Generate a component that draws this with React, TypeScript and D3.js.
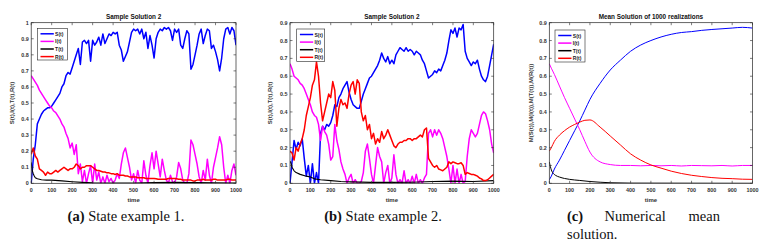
import * as d3 from "d3";

// time grid of the sampled paths (every 10 time units)
const tGrid = d3.range(0, 1001, 10);

// ---- panel (a): sample path 1 ----
const sA = [0.0, 0.15, 0.24, 0.37, 0.40, 0.43, 0.45, 0.46, 0.47, 0.47, 0.48, 0.50, 0.52, 0.54, 0.56, 0.60, 0.62, 0.67, 0.69, 0.68,
  0.72, 0.76, 0.80, 0.84, 0.74, 0.88, 0.89, 0.87, 0.89, 0.76, 0.89, 0.86, 0.88, 0.91, 0.86, 0.93, 0.87, 0.90, 0.93, 0.92,
  0.94, 0.93, 0.94, 0.86, 0.83, 0.76, 0.79, 0.82, 0.88, 0.94, 0.96, 0.95, 0.96, 0.93, 0.96, 0.90, 0.94, 0.84, 0.92, 0.86,
  0.78, 0.90, 0.94, 0.96, 0.95, 0.97, 0.96, 0.97, 0.95, 0.89, 0.96, 0.94, 0.96, 0.86, 0.84, 0.90, 0.95, 0.93, 0.71, 0.74,
  0.80, 0.86, 0.93, 0.96, 0.87, 0.92, 0.96, 0.95, 0.84, 0.86, 0.82, 0.77, 0.70, 0.78, 0.90, 0.96, 0.97, 0.93, 0.97, 0.95, 0.86];
const iA = [0.67, 0.65, 0.63, 0.61, 0.58, 0.56, 0.54, 0.52, 0.50, 0.48, 0.47, 0.45, 0.44, 0.42, 0.40, 0.37, 0.35, 0.31, 0.28, 0.22,
  0.25, 0.18, 0.24, 0.06, 0.12, 0.01, 0.08, 0.0, 0.06, 0.11, 0.0, 0.12, 0.02, 0.07, 0.0, 0.04, 0.0, 0.05, 0.01, 0.03,
  0.0, 0.02, 0.06, 0.03, 0.12, 0.19, 0.22, 0.16, 0.10, 0.02, 0.06, 0.0, 0.08, 0.02, 0.0, 0.14, 0.05, 0.0, 0.11, 0.19,
  0.09, 0.20, 0.12, 0.04, 0.15, 0.08, 0.02, 0.0, 0.05, 0.01, 0.0, 0.04, 0.13, 0.09, 0.02, 0.0, 0.0, 0.06, 0.27, 0.24,
  0.18, 0.12, 0.04, 0.0, 0.08, 0.02, 0.15, 0.05, 0.0, 0.10, 0.16, 0.22, 0.29, 0.24, 0.10, 0.0, 0.05, 0.0, 0.08, 0.12, 0.05];
const rA = [0.18, 0.22, 0.17, 0.15, 0.09, 0.08, 0.07, 0.05, 0.07, 0.06, 0.06, 0.07, 0.08, 0.07, 0.08, 0.09, 0.10, 0.09, 0.08, 0.09,
  0.09, 0.10, 0.12, 0.11, 0.09, 0.10, 0.10, 0.11, 0.11, 0.11, 0.10, 0.09, 0.08, 0.08, 0.075, 0.07, 0.07, 0.065, 0.065, 0.06,
  0.06, 0.055, 0.06, 0.05, 0.05, 0.05, 0.045, 0.045, 0.04, 0.04, 0.04, 0.04, 0.035, 0.035, 0.035, 0.035, 0.03, 0.03, 0.03, 0.03,
  0.03, 0.028, 0.025, 0.025, 0.025, 0.025, 0.025, 0.03, 0.03, 0.03, 0.03, 0.028, 0.025, 0.025, 0.02, 0.02, 0.02, 0.02, 0.02, 0.015,
  0.015, 0.02, 0.02, 0.02, 0.025, 0.02, 0.02, 0.02, 0.02, 0.025, 0.025, 0.02, 0.02, 0.02, 0.02, 0.02, 0.025, 0.025, 0.02, 0.02, 0.02];
const tTA = [0, 5, 10, 15, 20, 30, 40, 50, 75, 100, 150, 200, 250, 300, 400, 500, 600, 700, 800, 900, 1000];
const vTA = [0.13, 0.08, 0.06, 0.045, 0.035, 0.028, 0.025, 0.022, 0.02, 0.02, 0.015, 0.01, 0.006, 0.003, 0.002, 0.002, 0.005, 0.006, 0.004, 0.003, 0.002];

// ---- panel (b): sample path 2 ----
const sB = [0.0, 0.12, 0.24, 0.19, 0.23, 0.21, 0.25, 0.14, 0.04, 0.10, 0.0, 0.11, 0.0, 0.06, 0.0, 0.28, 0.32, 0.30, 0.33, 0.32,
  0.34, 0.38, 0.44, 0.43, 0.48, 0.50, 0.53, 0.55, 0.57, 0.51, 0.47, 0.44, 0.43, 0.42, 0.42, 0.46, 0.50, 0.53, 0.56, 0.59,
  0.60, 0.62, 0.64, 0.66, 0.69, 0.73, 0.70, 0.68, 0.71, 0.67, 0.69, 0.67, 0.72, 0.74, 0.76, 0.75, 0.74, 0.76, 0.74, 0.75,
  0.74, 0.72, 0.74, 0.73, 0.72, 0.69, 0.67, 0.63, 0.59, 0.60, 0.61, 0.63, 0.62, 0.64, 0.63, 0.66, 0.69, 0.73, 0.80, 0.86,
  0.84, 0.87, 0.82, 0.87, 0.86, 0.89, 0.74, 0.70, 0.68, 0.66, 0.68, 0.67, 0.69, 0.64, 0.60, 0.58, 0.57, 0.60, 0.66, 0.72, 0.78];
const iB = [0.67, 0.64, 0.60, 0.59, 0.58, 0.56, 0.55, 0.53, 0.50, 0.47, 0.44, 0.40, 0.38, 0.37, 0.33, 0.24, 0.32, 0.29, 0.27, 0.22,
  0.13, 0.15, 0.33, 0.24, 0.19, 0.12, 0.08, 0.05, 0.0, 0.03, 0.05, 0.0, 0.02, 0.0, 0.0, 0.01, 0.06, 0.18, 0.22, 0.14,
  0.05, 0.0, 0.10, 0.20, 0.15, 0.12, 0.0, 0.06, 0.10, 0.0, 0.03, 0.16, 0.05, 0.0, 0.02, 0.0, 0.07, 0.0, 0.02, 0.0,
  0.04, 0.0, 0.05, 0.0, 0.02, 0.0, 0.03, 0.05, 0.28, 0.30, 0.26, 0.30, 0.27, 0.30, 0.28, 0.25, 0.20, 0.15, 0.08, 0.0,
  0.10, 0.0, 0.08, 0.0, 0.05, 0.0, 0.01, 0.15, 0.25, 0.30, 0.28, 0.26, 0.28, 0.33, 0.38, 0.40, 0.39, 0.35, 0.30, 0.22, 0.17];
const rB = [0.18, 0.17, 0.13, 0.20, 0.18, 0.22, 0.25, 0.30, 0.38, 0.43, 0.48, 0.55, 0.58, 0.68, 0.60, 0.45, 0.35, 0.40, 0.45, 0.50,
  0.48, 0.57, 0.52, 0.32, 0.42, 0.47, 0.44, 0.45, 0.42, 0.50, 0.55, 0.57, 0.50, 0.58, 0.56, 0.40, 0.35, 0.38, 0.30, 0.33,
  0.25, 0.28, 0.22, 0.25, 0.23, 0.29, 0.25, 0.27, 0.30, 0.27, 0.24, 0.21, 0.20, 0.22, 0.23, 0.23, 0.24, 0.24, 0.25, 0.25,
  0.24, 0.25, 0.25, 0.26, 0.27, 0.26, 0.30, 0.31, 0.14, 0.12, 0.10, 0.09, 0.10, 0.08, 0.075, 0.07, 0.08, 0.09, 0.12, 0.11,
  0.12, 0.115, 0.11, 0.11, 0.115, 0.10, 0.05, 0.06, 0.055, 0.05, 0.05, 0.045, 0.04, 0.03, 0.025, 0.015, 0.015, 0.02, 0.03, 0.04, 0.05];
const tTB = [0, 3, 10, 20, 30, 50, 80, 100, 120, 150, 200, 250, 300, 400, 500, 600, 700, 800, 900, 1000];
const vTB = [0.12, 0.12, 0.09, 0.07, 0.06, 0.05, 0.04, 0.035, 0.025, 0.02, 0.015, 0.01, 0.008, 0.005, 0.005, 0.006, 0.01, 0.012, 0.01, 0.015];

// ---- panel (c): mean of 1000 realizations ----
const tC = [0, 10, 25, 50, 75, 100, 125, 150, 175, 200, 250, 300, 350, 400, 450, 500, 550, 600, 650, 700, 750, 800, 850, 900, 950, 1000];
const sC = [0.02, 0.04, 0.08, 0.13, 0.185, 0.24, 0.295, 0.35, 0.41, 0.47, 0.56, 0.635, 0.69, 0.74, 0.775, 0.8, 0.82, 0.835, 0.845, 0.85, 0.857, 0.862, 0.866, 0.87, 0.874, 0.87];
const iC = [0.67, 0.645, 0.61, 0.545, 0.48, 0.42, 0.36, 0.3, 0.235, 0.175, 0.12, 0.105, 0.1, 0.1, 0.098, 0.1, 0.098, 0.1, 0.097, 0.1, 0.099, 0.098, 0.1, 0.097, 0.1, 0.1];
const rC = [0.18, 0.2, 0.235, 0.27, 0.295, 0.315, 0.33, 0.343, 0.353, 0.355, 0.315, 0.265, 0.215, 0.165, 0.13, 0.103, 0.085, 0.068, 0.055, 0.045, 0.038, 0.032, 0.028, 0.026, 0.023, 0.022];
const tTC = [0, 5, 10, 20, 30, 50, 75, 100, 150, 200, 250, 300, 400, 1000];
const vTC = [0.12, 0.095, 0.075, 0.055, 0.045, 0.035, 0.027, 0.022, 0.016, 0.01, 0.006, 0.003, 0.001, 0.0];

const legendNames = ["S(t)", "I(t)", "T(t)", "R(t)"];
const colors = ["#0000ff", "#ff00ff", "#000000", "#ff0000"];
const xTickValues = [0, 100, 200, 300, 400, 500, 600, 700, 800, 900, 1000];

type Series = { t: number[]; v: number[] };

const panels = [
  {
    left: 31.2, right: 236, yMax: 1, title: "Sample Solution 2", ylabel: "S(t),I(t),T(t),R(t)", ylabelX: 14,
    legend: { x: 37.3, y: 28.3, w: 30, h: 31.7 }, smooth: false,
    series: [{ t: tGrid, v: sA }, { t: tGrid, v: iA }, { t: tTA, v: vTA }, { t: tGrid, v: rA }] as Series[],
  },
  {
    left: 290, right: 493.7, yMax: 0.9, title: "Sample Solution 2", ylabel: "S(t),I(t),T(t),R(t)", ylabelX: 272,
    legend: { x: 296.7, y: 29, w: 28, h: 32.3 }, smooth: false,
    series: [{ t: tGrid, v: sB }, { t: tGrid, v: iB }, { t: tTB, v: vTB }, { t: tGrid, v: rB }] as Series[],
  },
  {
    left: 549.3, right: 752.5, yMax: 0.9, title: "Mean Solution of 1000 realizations", ylabel: "M(S(t)),M(I(t)),M(T(t)),M(R(t))", ylabelX: 533,
    legend: { x: 555, y: 30, w: 30, h: 32 }, smooth: true,
    series: [{ t: tC, v: sC }, { t: tC, v: iC }, { t: tTC, v: vTC }, { t: tC, v: rC }] as Series[],
  },
];

const TOP = 22.7;
const BOTTOM = 183.3;
const SANS = "'Liberation Sans', Arial, sans-serif";
const SERIF = "'Liberation Serif', 'Times New Roman', serif";

function Panel({ p, idx }: { p: (typeof panels)[number]; idx: number }) {
  const x = d3.scaleLinear().domain([0, 1000]).range([p.left, p.right]);
  const y = d3.scaleLinear().domain([0, p.yMax]).range([BOTTOM, TOP]);
  const yTicks = y.ticks(10);
  const tick = 2.5;
  const cx = (p.left + p.right) / 2;
  const clipId = `clip${idx}`;
  return (
    <g>
      <clipPath id={clipId}>
        <rect x={p.left} y={TOP} width={p.right - p.left} height={BOTTOM - TOP} />
      </clipPath>
      <rect x={p.left} y={TOP} width={p.right - p.left} height={BOTTOM - TOP} fill="#fff" />
      <g clipPath={`url(#${clipId})`}>
        {p.series.map((s, k) => {
          const pts = s.t.map((t, j) => [x(t), y(s.v[j])] as [number, number]);
          const path = d3.line().curve(p.smooth ? d3.curveMonotoneX : d3.curveLinear)(pts) || "";
          return (
            <path key={k} d={path} fill="none" stroke={colors[k]}
              strokeWidth={p.smooth ? 1 : k === 2 ? 1.1 : 1.5} strokeLinejoin="round" />
          );
        })}
      </g>
      {/* box and ticks */}
      <rect x={p.left} y={TOP} width={p.right - p.left} height={BOTTOM - TOP} fill="none" stroke="#262626" strokeWidth={0.7} />
      {xTickValues.map((t) => (
        <g key={"x" + t}>
          <line x1={x(t)} x2={x(t)} y1={BOTTOM} y2={BOTTOM - tick} stroke="#262626" strokeWidth={0.6} />
          <line x1={x(t)} x2={x(t)} y1={TOP} y2={TOP + tick} stroke="#262626" strokeWidth={0.6} />
          <text x={x(t)} y={192} fontSize={5.4} fontWeight="bold" fontFamily={SANS} textAnchor="middle" fill="#333">{t}</text>
        </g>
      ))}
      {yTicks.map((v) => (
        <g key={"y" + v}>
          <line x1={p.left} x2={p.left + tick} y1={y(v)} y2={y(v)} stroke="#262626" strokeWidth={0.6} />
          <line x1={p.right} x2={p.right - tick} y1={y(v)} y2={y(v)} stroke="#262626" strokeWidth={0.6} />
          <text x={p.left - 2.5} y={y(v) + 2} fontSize={5.4} fontWeight="bold" fontFamily={SANS} textAnchor="end" fill="#333">
            {String(+v.toFixed(1))}
          </text>
        </g>
      ))}
      <text x={cx} y={19} fontSize={6.4} fontWeight="bold" fontFamily={SANS} textAnchor="middle" fill="#111">{p.title}</text>
      <text x={cx} y={201.5} fontSize={6} fontWeight="bold" fontFamily={SANS} textAnchor="middle" fill="#333">time</text>
      <text transform={`translate(${p.ylabelX},${(TOP + BOTTOM) / 2}) rotate(-90)`} fontSize={6} fontWeight="bold" fontFamily={SANS}
        textAnchor="middle" fill="#333">{p.ylabel}</text>
      {/* legend */}
      <rect x={p.legend.x} y={p.legend.y} width={p.legend.w} height={p.legend.h} fill="#fff" stroke="#262626" strokeWidth={0.6} />
      {legendNames.map((n, k) => {
        const ly = p.legend.y + 5.5 + k * 7.6;
        return (
          <g key={n}>
            <line x1={p.legend.x + 3.2} x2={p.legend.x + 16.5} y1={ly} y2={ly} stroke={colors[k]} strokeWidth={1.5} />
            <text x={p.legend.x + 17.8} y={ly + 2} fontSize={5} fontWeight="bold" fontFamily={SANS} fill="#222">{n}</text>
          </g>
        );
      })}
    </g>
  );
}

export default function App() {
  return (
    <div style={{ position: "absolute", left: 0, top: 0 }}>
      <svg width={768} height={246} style={{ display: "block", background: "#fff" }}>
        {panels.map((p, i) => (
          <Panel key={i} p={p} idx={i} />
        ))}
        <text x={126} y={221} fontSize={14.5} fontFamily={SERIF} textAnchor="middle" fill="#111">
          <tspan fontWeight="bold">(a)</tspan> State example 1.
        </text>
        <text x={383} y={221} fontSize={14.5} fontFamily={SERIF} textAnchor="middle" fill="#111">
          <tspan fontWeight="bold">(b)</tspan> State example 2.
        </text>
        <text x={567} y={221} fontSize={14.5} fontFamily={SERIF} fontWeight="bold" fill="#111">(c)</text>
        <text x={604.5} y={221} fontSize={14.5} fontFamily={SERIF} fill="#111">Numerical</text>
        <text x={720} y={221} fontSize={14.5} fontFamily={SERIF} textAnchor="end" fill="#111">mean</text>
        <text x={567} y={238.5} fontSize={14.5} fontFamily={SERIF} fill="#111">solution.</text>
      </svg>
    </div>
  );
}
